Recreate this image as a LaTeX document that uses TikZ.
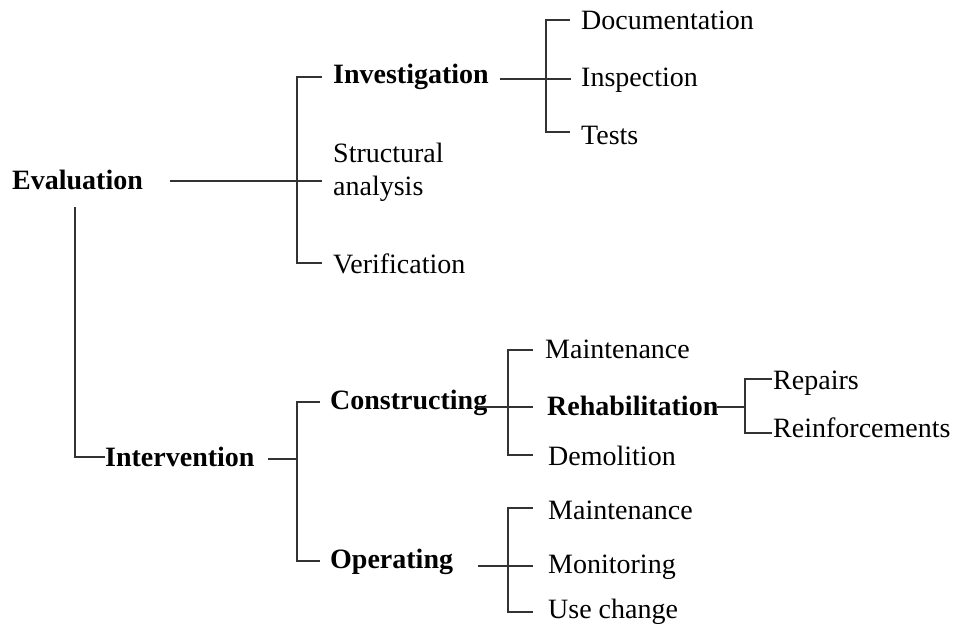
\documentclass[tikz,border=0pt]{standalone}
\usepackage{fontspec}
\setmainfont{Liberation Serif}
\begin{document}
\begin{tikzpicture}[x=1pt,y=-1pt,
  lbl/.style={anchor=base west, inner sep=0pt, font=\fontsize{28}{33}\selectfont},
  blbl/.style={anchor=base west, inner sep=0pt, font=\fontsize{28}{33}\selectfont\bfseries},
  conn/.style={line width=1.1pt, draw=black!80}]
\useasboundingbox (0,0) rectangle (955,626);
% texts
\node[blbl] (eval) at (12,189) {Evaluation};
\node[blbl] (inv) at (333,83) {Investigation};
\node[lbl, anchor=west, align=left] (struct) at (333,172) {Structural\\analysis};
\node[lbl] (verif) at (333,273) {Verification};
\node[lbl] (doc) at (581,30) {Documentation};
\node[lbl] (insp) at (581,86) {Inspection};
\node[lbl] (tests) at (581,144) {Tests};
\node[blbl] (interv) at (105,466) {Intervention};
\node[blbl] (constr) at (330,409) {Constructing};
\node[blbl] (oper) at (330,568) {Operating};
\node[lbl] (maint1) at (545,358) {Maintenance};
\node[blbl] (rehab) at (547,415) {Rehabilitation};
\node[lbl] (demol) at (548,465) {Demolition};
\node[lbl] (repairs) at (773,389) {Repairs};
\node[lbl] (reinf) at (773,437) {Reinforcements};
\node[lbl] (maint2) at (548,519) {Maintenance};
\node[lbl] (monit) at (548,573) {Monitoring};
\node[lbl] (use) at (548,618) {Use change};
% junction coordinates
\coordinate (e0) at (170,181);
\coordinate (e1) at (322,181);
\coordinate (b1t) at (322,77);
\coordinate (b1b) at (322,263);
\coordinate (v0) at (75,207);
\coordinate (v1) at (105,457);
\coordinate (i0) at (268,459);
\coordinate (i1) at (297,459);
\coordinate (b2t) at (320,402);
\coordinate (b2b) at (320,561);
\coordinate (n0) at (500,79);
\coordinate (n1) at (571,79);
\coordinate (b3t) at (570,20);
\coordinate (b3b) at (570,132);
\coordinate (c0) at (478,407);
\coordinate (c1) at (533,407);
\coordinate (b4t) at (533,350);
\coordinate (b4b) at (533,455);
\coordinate (r0) at (717,407);
\coordinate (r1) at (745,407);
\coordinate (b5t) at (772,379);
\coordinate (b5b) at (772,433);
\coordinate (o0) at (478,566);
\coordinate (o1) at (533,566);
\coordinate (b6t) at (533,508);
\coordinate (b6b) at (533,612);
% connectors
\draw[conn] (e0) -- (e1);
\draw[conn] (b1t) -- (297,77) -- (297,263) -- (b1b);
\draw[conn] (v0) |- (v1);
\draw[conn] (i0) -- (i1);
\draw[conn] (b2t) -- (297,402) -- (297,561) -- (b2b);
\draw[conn] (n0) -- (n1);
\draw[conn] (b3t) -- (546,20) -- (546,132) -- (b3b);
\draw[conn] (c0) -- (c1);
\draw[conn] (b4t) -- (508,350) -- (508,455) -- (b4b);
\draw[conn] (r0) -- (r1);
\draw[conn] (b5t) -- (745,379) -- (745,433) -- (b5b);
\draw[conn] (o0) -- (o1);
\draw[conn] (b6t) -- (508,508) -- (508,612) -- (b6b);
\end{tikzpicture}
\end{document}
